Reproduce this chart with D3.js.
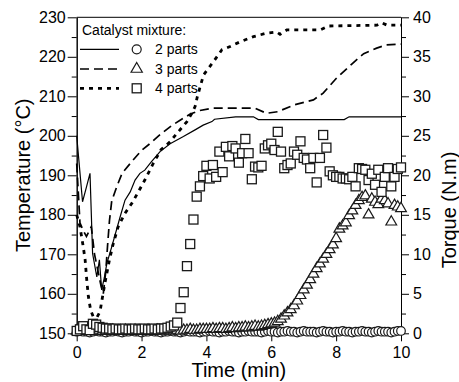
<!DOCTYPE html>
<html>
<head>
<meta charset="utf-8">
<script src="https://cdn.jsdelivr.net/npm/d3@7"></script>
<style>
body { margin: 0; background: #fff; }
svg { display: block; font-family: Arial, "Liberation Sans", sans-serif; }
</style>
</head>
<body>
<svg id="chart" width="459" height="382"></svg>
<script>

// torque readings, one every 0.1 min
let torqueTime = [0,0.1,0.2,0.3,0.4,0.5,0.6,0.7,0.8,0.9,
    1,1.1,1.2,1.3,1.4,1.5,1.6,1.7,1.8,1.9,
    2,2.1,2.2,2.3,2.4,2.5,2.6,2.7,2.8,2.9,
    3,3.1,3.2,3.3,3.4,3.5,3.6,3.7,3.8,3.9,
    4,4.1,4.2,4.3,4.4,4.5,4.6,4.7,4.8,4.9,
    5,5.1,5.2,5.3,5.4,5.5,5.6,5.7,5.8,5.9,
    6,6.1,6.2,6.3,6.4,6.5,6.6,6.7,6.8,6.9,
    7,7.1,7.2,7.3,7.4,7.5,7.6,7.7,7.8,7.9,
    8,8.1,8.2,8.3,8.4,8.5,8.6,8.7,8.8,8.9,
    9,9.1,9.2,9.3,9.4,9.5,9.6,9.7,9.8,9.9,
    10];

// 2 parts (circles)
let torque2 = [0.2,0.3,0.2,0.2,0.1,0.2,0.3,0.2,0.2,0.1,
    0.2,0.2,0.3,0.2,0.1,0.2,0.2,0.3,0.2,0.2,
    0.1,0.2,0.2,0.3,0.2,0.2,0.1,0.2,0.2,0.3,
    0.2,0.2,0.1,0.2,0.3,0.2,0.2,0.2,0.1,0.2,
    0.2,0.3,0.2,0.2,0.1,0.2,0.2,0.3,0.2,0.2,
    0.1,0.2,0.2,0.3,0.2,0.2,0.2,0.1,0.2,0.3,
    0.2,0.2,0.1,0.2,0.2,0.3,0.2,0.2,0.1,0.2,
    0.3,0.2,0.2,0.2,0.1,0.2,0.3,0.2,0.2,0.1,
    0.2,0.2,0.3,0.2,0.2,0.1,0.2,0.2,0.3,0.2,
    0.2,0.1,0.2,0.3,0.2,0.2,0.2,0.1,0.2,0.3,
    0.3];

// 3 parts (triangles)
let torque3 = [0.3,0.4,0.3,0.3,0.4,0.3,0.3,0.4,0.3,0.3,
    0.3,0.4,0.3,0.3,0.3,0.4,0.3,0.3,0.4,0.3,
    0.3,0.3,0.4,0.3,0.3,0.4,0.3,0.4,0.4,0.3,
    0.4,0.4,0.3,0.4,0.4,0.5,0.4,0.4,0.5,0.5,
    0.5,0.5,0.6,0.5,0.6,0.6,0.5,0.6,0.7,0.6,
    0.7,0.7,0.8,0.7,0.8,0.9,0.8,0.9,1.0,1.1,
    1.2,1.3,1.5,1.8,2.2,2.6,3.0,3.5,4.1,4.8,
    5.5,6.1,6.8,7.5,8.2,8.8,9.4,10.0,10.6,11.2,
    12.0,13.2,13.6,14.0,14.9,15.5,16.2,16.8,17.2,17.4,
    15.0,17.0,16.6,16.3,17.0,16.8,16.4,14.1,16.2,16.0,
    15.8];

// 4 parts (squares)
let torque4 = [0.3,0.5,0.9,0.5,0.4,1.2,1.1,0.8,0.7,0.6,
    0.6,0.5,0.6,0.5,0.5,0.6,0.5,0.5,0.6,0.5,
    0.5,0.6,0.5,0.5,0.6,0.5,0.6,0.6,0.7,0.85,
    1.0,1.35,3.2,5.2,8.5,11.3,14.4,17.3,18.6,19.9,
    21.2,19.6,21.3,19.8,23.0,20.4,23.6,22.4,23.7,23.4,
    21.6,22.8,24.6,22.8,19.5,21.1,21.0,21.2,23.4,23.8,
    24.0,23.2,25.5,23.0,20.9,21.3,21.5,23.0,22.6,24.3,
    22.2,22.0,20.9,22.2,19.1,22.2,25.1,23.5,20.5,20.0,
    19.8,19.8,19.6,19.6,19.5,19.8,18.6,20.9,20.8,20.7,
    19.4,20.2,18.8,20.7,17.9,19.8,20.9,18.6,19.8,20.8,
    21.0];

// temperature curves [min, degC]
let temp2 = [[0,200],[0.18,183.3],[0.3,187],[0.41,190.5],[0.49,170.2],[0.62,164.3],[0.7,168.6],
    [0.77,161],[0.85,164],[0.93,167.7],[1.08,171.9],[1.34,179.5],[1.49,183.7],[1.65,185.8],
    [1.8,188.8],[1.95,190.5],[2.1,191.3],[2.3,193.4],[2.57,196],[2.88,198],[3.29,199.8],
    [3.65,201.5],[3.9,202.7],[4.17,203.6],[4.25,204.2],[4.9,204.8],[5.45,204.8],[5.6,204.1],
    [8.25,204.1],[8.4,204.8],[10,204.8]];

let temp3 = [[0,193],[0.1,178],[0.2,176],[0.3,174.5],[0.45,177],[0.55,170],[0.65,166],
    [0.75,162],[0.82,160],[0.9,166],[0.95,172],[1.01,178.5],[1.08,183.5],[1.23,187],
    [1.4,190.5],[1.7,193.5],[2.0,196.3],[2.3,198.3],[2.6,200.5],[2.95,202.7],[3.2,204],
    [3.5,205.5],[3.8,206.4],[4.2,207],[5.5,207],[5.85,205.7],[6.2,206.1],[6.7,207.8],
    [7.3,209.1],[7.6,210.8],[8.0,214.5],[8.5,218.3],[8.85,220.8],[9.25,222.2],[9.55,223],
    [10,223.2]];

let temp4 = [[0,180],[0.1,177],[0.2,172],[0.26,168.6],[0.31,163.5],[0.36,159.3],[0.43,155.9],
    [0.51,154.2],[0.62,154],[0.72,155.5],[0.77,158],[0.87,162.7],[1.01,168.6],[1.13,172.8],
    [1.28,177],[1.49,180.4],[1.7,182.9],[1.9,185.8],[2.1,188.8],[2.36,193],[2.6,196.5],
    [2.88,198.5],[3.09,200.6],[3.4,203.6],[3.55,205.7],[3.65,207.4],[3.72,209.9],[3.91,215.4],
    [4.22,218.8],[4.48,221.8],[4.73,222.6],[5.04,223.8],[5.45,225.1],[5.86,226],[6.17,226.3],
    [6.27,225.7],[6.48,226.8],[7.51,226.8],[7.77,227.8],[9.26,228],[9.41,228.6],[9.57,228],
    [10,228]];

// ticks
let timeTicks = [0,2,4,6,8,10];
let tempTicks = [150,160,170,180,190,200,210,220,230];
let tempMinor = [155,165,175,185,195,205,215,225];
let torqueTicks = [0,5,10,15,20,25,30,35,40];
let torqueMinor = [2.5,7.5,12.5,17.5,22.5,27.5,32.5,37.5];

let legendNames = ["2 parts", "3 parts", "4 parts"];

let plotLeft = 76.7;
let plotRight = 401;
let plotTop = 17.3;
let plotBottom = 333.3;

let svg = d3.select("#chart");

let xScale = d3.scaleLinear().domain([0, 10]).range([plotLeft, plotRight]);
let yTemp = d3.scaleLinear().domain([150, 230]).range([plotBottom, plotTop]);
let yTorque = d3.scaleLinear().domain([0, 40]).range([plotBottom, plotTop]);

function styleAxis(g) {
    g.selectAll("path, line").attr("stroke", "#000").attr("stroke-width", 1);
    g.selectAll("text").attr("fill", "#000").style("font-size", "16px")
        .style("font-family", "Arial, 'Liberation Sans', sans-serif");
}

//left axis
svg.append("g")
.attr("transform", `translate(${plotLeft},0)`)
.call(d3.axisLeft(yTemp).tickValues(tempTicks).tickSize(9).tickPadding(2).tickSizeOuter(0))
.call(styleAxis);

svg.append("g")
.attr("transform", `translate(${plotLeft},0)`)
.call(d3.axisLeft(yTemp).tickValues(tempMinor).tickSize(5).tickFormat("").tickSizeOuter(0))
.call(styleAxis);

//right axis
svg.append("g")
.attr("transform", `translate(${plotRight},0)`)
.call(d3.axisRight(yTorque).tickValues(torqueTicks).tickSize(8).tickPadding(4).tickSizeOuter(0))
.call(styleAxis);

svg.append("g")
.attr("transform", `translate(${plotRight},0)`)
.call(d3.axisRight(yTorque).tickValues(torqueMinor).tickSize(5).tickFormat("").tickSizeOuter(0))
.call(styleAxis);

//bottom axis
svg.append("g")
.attr("transform", `translate(0,${plotBottom})`)
.call(d3.axisBottom(xScale).tickValues(timeTicks).tickSize(8).tickPadding(5).tickSizeOuter(0))
.call(styleAxis);

//top frame line
svg.append("line")
.attr("x1", plotLeft).attr("x2", plotRight)
.attr("y1", plotTop).attr("y2", plotTop)
.attr("stroke", "#000").attr("stroke-width", 1);

//axis titles
svg.append("text")
.attr("transform", `translate(30,${(plotTop + plotBottom) / 2}) rotate(-90)`)
.attr("text-anchor", "middle")
.style("font-size", "20px")
.text("Temperature (°C)");

svg.append("text")
.attr("transform", "translate(456,210) rotate(-90)")
.attr("text-anchor", "middle")
.style("font-size", "20px")
.text("Torque (N.m)");

svg.append("text")
.attr("x", (plotLeft + plotRight) / 2)
.attr("y", 377)
.attr("text-anchor", "middle")
.style("font-size", "20px")
.text("Time (min)");

//temperature lines
let lineStyles = [
    { dash: null, width: 1.2 },
    { dash: "9,5", width: 1.7 },
    { dash: "4,5", width: 2.8 }
];

let tempLine = d3.line()
.x(d => xScale(d[0]))
.y(d => yTemp(d[1]));

[temp2, temp3, temp4].forEach((data, i) => {
    svg.append("path")
    .datum(data)
    .attr("d", tempLine)
    .attr("fill", "none")
    .attr("stroke", "#000")
    .attr("stroke-width", lineStyles[i].width)
    .attr("stroke-dasharray", lineStyles[i].dash);
});

//torque markers
let markerStroke = "#1a1a1a";

svg.append("g")
.selectAll("circle")
.data(torqueTime.map((t, i) => [t, torque2[i]]))
.join("circle")
.attr("cx", d => xScale(d[0]))
.attr("cy", d => yTorque(d[1]))
.attr("r", 4.3)
.attr("fill", "#fff")
.attr("stroke", markerStroke)
.attr("stroke-width", 1.2);

let triangle = d3.symbol().type(d3.symbolTriangle).size(50);

svg.append("g")
.selectAll("path")
.data(torqueTime.map((t, i) => [t, torque3[i]]))
.join("path")
.attr("d", triangle)
.attr("transform", d => `translate(${xScale(d[0])},${yTorque(d[1])})`)
.attr("fill", "#fff")
.attr("stroke", markerStroke)
.attr("stroke-width", 1.2);

svg.append("g")
.selectAll("rect")
.data(torqueTime.map((t, i) => [t, torque4[i]]))
.join("rect")
.attr("x", d => xScale(d[0]) - 4.5)
.attr("y", d => yTorque(d[1]) - 4.5)
.attr("width", 9)
.attr("height", 9)
.attr("fill", "#fff")
.attr("stroke", markerStroke)
.attr("stroke-width", 1.3);

//legend
svg.append("text")
.attr("x", 82)
.attr("y", 35)
.style("font-size", "14px")
.text("Catalyst mixture:");

let legendY = [49.3, 69, 88.3];

legendNames.forEach((name, i) => {
    let y = legendY[i];
    svg.append("line")
    .attr("x1", 80).attr("x2", 119)
    .attr("y1", y).attr("y2", y)
    .attr("stroke", "#000")
    .attr("stroke-width", lineStyles[i].width)
    .attr("stroke-dasharray", lineStyles[i].dash);

    svg.append("text")
    .attr("x", 155)
    .attr("y", y + 5)
    .style("font-size", "14px")
    .text(name);
});

svg.append("circle")
.attr("cx", 136.7).attr("cy", legendY[0]).attr("r", 4.5)
.attr("fill", "#fff").attr("stroke", markerStroke).attr("stroke-width", 1.2);

svg.append("path")
.attr("d", d3.symbol().type(d3.symbolTriangle).size(55))
.attr("transform", `translate(136.7,${legendY[1]})`)
.attr("fill", "#fff").attr("stroke", markerStroke).attr("stroke-width", 1.2);

svg.append("rect")
.attr("x", 136.7 - 4.5).attr("y", legendY[2] - 4.5)
.attr("width", 9).attr("height", 9)
.attr("fill", "#fff").attr("stroke", markerStroke).attr("stroke-width", 1.3);

</script>
</body>
</html>
